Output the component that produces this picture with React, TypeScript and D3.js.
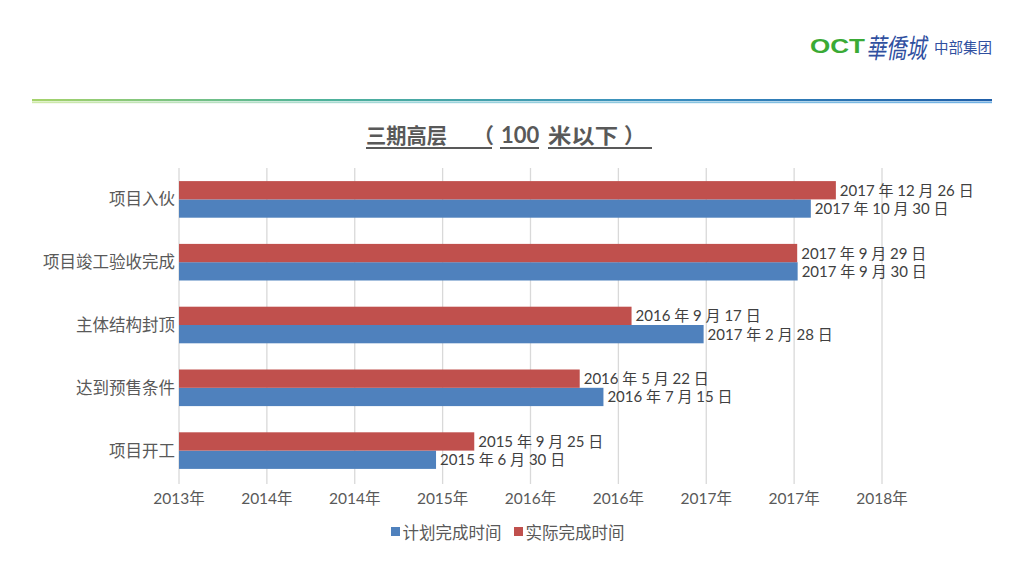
import React from "react";
import * as d3 from "d3";

// Milestones, listed top to bottom as shown
const categories = ["项目入伙", "项目竣工验收完成", "主体结构封顶", "达到预售条件", "项目开工"];
const seriesNames = ["计划完成时间", "实际完成时间"];
const plannedDates = ["2017-10-30", "2017-09-30", "2017-02-28", "2016-07-15", "2015-06-30"];
const actualDates = ["2017-12-26", "2017-09-29", "2016-09-17", "2016-05-22", "2015-09-25"];
const seriesColors = ["#4f81bd", "#c0504d"];

// Date axis: starts at 2013-11-22 and steps every 200 days
const axisStart = "2013-11-22";
const tickStepDays = 200;
const tickLabels = ["2013年", "2014年", "2014年", "2015年", "2016年", "2016年", "2017年", "2017年", "2018年"];

const parse = (s: string) => new Date(s + "T00:00:00Z");
const DAY = 86400000;

function labelFor(s: string) {
  const d = parse(s);
  return `${d.getUTCFullYear()} 年 ${d.getUTCMonth() + 1} 月 ${d.getUTCDate()} 日`;
}

const W = 1024;
const H = 576;
const plot = { left: 179, right: 882, top: 168, bottom: 482 };
const numFont = "Lato, 'Noto Sans CJK SC', sans-serif";
const cjkFont = "'Noto Sans CJK SC', sans-serif";

export default function App() {
  const start = parse(axisStart);
  const tickDates = tickLabels.map((_, i) => new Date(start.getTime() + i * tickStepDays * DAY));
  const x = d3
    .scaleUtc()
    .domain([tickDates[0], tickDates[tickDates.length - 1]])
    .range([plot.left, plot.right]);
  const y = d3.scaleBand<string>().domain(categories).range([plot.top, plot.bottom]).padding(0);
  const barH = 18.3;
  // red (actual) drawn on top, blue (planned) below
  const inner = d3.scaleBand<number>().domain([1, 0]).range([-barH, barH]);

  const series = [plannedDates, actualDates];
  const titleColor = "#595959";

  return (
    <svg width={W} height={H} style={{ display: "block", position: "absolute", left: 0, top: 0, background: "#fff" }}>
      <defs>
        <linearGradient id="hdr" x1="0" x2="1" y1="0" y2="0">
          <stop offset="0" stopColor="#a6d36b" />
          <stop offset="0.3" stopColor="#4fb39a" />
          <stop offset="0.65" stopColor="#3a8fc0" />
          <stop offset="1" stopColor="#1f5ea8" />
        </linearGradient>
        <linearGradient id="hdr2" x1="0" x2="1" y1="0" y2="0">
          <stop offset="0" stopColor="#cfe9a8" />
          <stop offset="0.4" stopColor="#9fd6dc" />
          <stop offset="1" stopColor="#6fb0e4" />
        </linearGradient>
      </defs>

      {/* Header logo */}
      <text x={810} y={53} fontFamily="'Liberation Sans', Arial, sans-serif" fontWeight="bold" fontSize={21}
        fill="#3aaa35" textLength={55} lengthAdjust="spacingAndGlyphs">OCT</text>
      <g transform="translate(899 48) skewX(-10) translate(-899 -48)">
        <text x={868} y={58} fontFamily="'Noto Sans CJK TC', serif" fontWeight={400} fontSize={27} fill="#2f4f9f"
          textLength={60} lengthAdjust="spacingAndGlyphs">華僑城</text>
      </g>
      <text x={934} y={53} fontFamily={cjkFont} fontSize={14.5} fill="#2f4f9f">中部集团</text>

      {/* Header rule */}
      <rect x={32} y={99} width={960} height={2.2} fill="url(#hdr)" />
      <rect x={32} y={101.6} width={960} height={1.6} fill="url(#hdr2)" />

      {/* Title */}
      <g fontFamily={cjkFont} fontWeight="bold" fontSize={21} fill={titleColor}>
        <text x={366} y={143} textLength={81} lengthAdjust="spacingAndGlyphs">三期高层</text>
        <text x={473} y={143}>（</text>
        <text x={501} y={143} fontFamily={numFont} fontSize={22}>100</text>
        <text x={548} y={143} textLength={70} lengthAdjust="spacingAndGlyphs">米以下</text>
        <text x={624} y={143}>）</text>
        <g stroke={titleColor} strokeWidth={1.8}>
          <line x1={366} x2={492} y1={148} y2={148} />
          <line x1={500} x2={539} y1={148} y2={148} />
          <line x1={548} x2={652} y1={148} y2={148} />
        </g>
      </g>

      {/* Gridlines */}
      <g>
        {tickDates.map((t, i) => (
          <line key={i} x1={x(t)} x2={x(t)} y1={plot.top} y2={plot.bottom + 2} stroke="#d9d9d9" strokeWidth={1.3} />
        ))}
      </g>

      {/* Bars */}
      <g>
        {categories.map((c, ci) => {
          const cy = (y(c) as number) + y.bandwidth() / 2;
          return (
            <g key={c}>
              {series.map((s, si) => (
                <rect key={si} x={plot.left} y={cy + (inner(si) as number)} height={inner.bandwidth()}
                  width={x(parse(s[ci])) - plot.left} fill={seriesColors[si]} />
              ))}
            </g>
          );
        })}
      </g>

      {/* Data labels */}
      <g fontFamily={numFont} fontSize={15} fill="#404040">
        {categories.map((c, ci) => {
          const cy = (y(c) as number) + y.bandwidth() / 2;
          return series.map((s, si) => (
            <text key={c + si} x={x(parse(s[ci])) + 4} y={cy + (inner(si) as number) + inner.bandwidth() / 2 + 5.5}>
              {labelFor(s[ci])}
            </text>
          ));
        })}
      </g>

      {/* Category labels */}
      <g fontFamily={cjkFont} fontSize={16.5} fill="#595959" textAnchor="end">
        {categories.map((c) => (
          <text key={c} x={plot.left - 4} y={(y(c) as number) + y.bandwidth() / 2 + 6}>{c}</text>
        ))}
      </g>

      {/* Date axis labels */}
      <g fontFamily={numFont} fontSize={15.5} fill="#595959" textAnchor="middle">
        {tickDates.map((t, i) => (
          <text key={i} x={x(t)} y={plot.bottom + 22}>{tickLabels[i]}</text>
        ))}
      </g>

      {/* Legend */}
      <g fontFamily={cjkFont} fontSize={16.5} fill="#595959">
        {seriesNames.map((n, i) => {
          const lx = 391 + i * 123;
          return (
            <g key={n}>
              <rect x={lx} y={527} width={9} height={9} fill={seriesColors[i]} />
              <text x={lx + 11.5} y={538.5}>{n}</text>
            </g>
          );
        })}
      </g>
    </svg>
  );
}
